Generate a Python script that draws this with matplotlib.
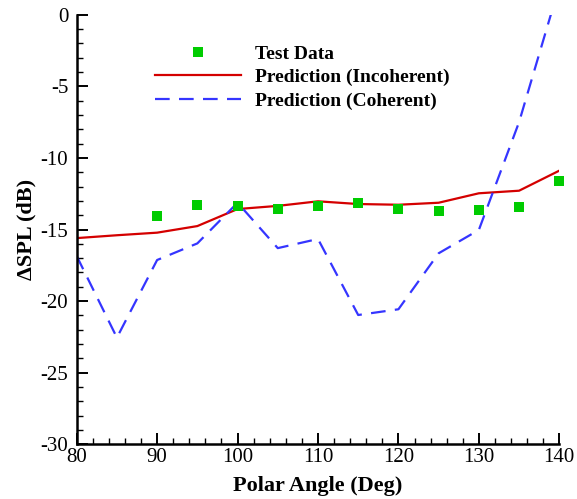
import matplotlib
matplotlib.use("Agg")
import matplotlib.pyplot as plt
from matplotlib.ticker import MultipleLocator

plt.rcParams['font.family'] = ['Liberation Serif', 'DejaVu Serif']
plt.rcParams['axes.unicode_minus'] = False

angles = [80, 85, 90, 95, 100, 105, 110, 115, 120, 125, 130, 135, 140]
incoherent = [-15.6, -15.4, -15.22, -14.76, -13.57, -13.35, -13.03, -13.22, -13.27, -13.13, -12.47, -12.29, -10.89]
coherent = [-16.85, -22.55, -17.13, -15.97, -13.13, -16.3, -15.66, -20.97, -20.57, -16.66, -15.03, -7.5, 2.0]
test_angles = [90, 95, 100, 105, 110, 115, 120, 125, 130, 135, 140]
test_data = [-14.06, -13.31, -13.38, -13.59, -13.36, -13.17, -13.55, -13.73, -13.64, -13.45, -11.63]

fig = plt.figure(figsize=(5.77, 4.99), dpi=100)
ax = fig.add_axes([0.1329, 0.1096, 0.8364, 0.8609])

ax.plot(test_angles, test_data, linestyle='none', marker='s', markersize=6.5,
        color='#00cc00', markeredgewidth=0, label='Test Data', clip_on=False, zorder=3)
ax.plot(angles, incoherent, color='#d40000', lw=1.6, label='Prediction (Incoherent)')
ax.plot(angles, coherent, color='#3535ff', lw=1.6, dashes=[6.6, 4.2], label='Prediction (Coherent)')

ax.set_xlim(80, 140)
ax.set_ylim(-30, 0)
ax.xaxis.set_major_locator(MultipleLocator(10))
ax.xaxis.set_minor_locator(MultipleLocator(2))
ax.yaxis.set_major_locator(MultipleLocator(5))
ax.yaxis.set_minor_locator(MultipleLocator(1))

for s in ['top', 'right']:
    ax.spines[s].set_visible(False)
for s in ['left', 'bottom']:
    ax.spines[s].set_linewidth(1.8)

ax.tick_params(which='major', direction='in', length=7.7, width=1.4, labelsize=15, pad=3)
ax.tick_params(which='minor', direction='in', length=4.3, width=1.0)
ax.tick_params(axis='y', which='major', pad=6)

ax.set_xlabel('Polar Angle (Deg)', fontsize=16, fontweight='bold', labelpad=6)
ax.set_ylabel('ΔSPL (dB)', fontsize=16, fontweight='bold', labelpad=3)

leg = ax.legend(loc='upper left', bbox_to_anchor=(155 / 577, 1 - 45 / 499),
                bbox_transform=fig.transFigure, frameon=False,
                prop={'weight': 'bold', 'size': 14}, handlelength=4.4, handletextpad=0.75,
                labelspacing=0.3, borderpad=0, borderaxespad=0)

fig.savefig('out.png', dpi=100)
